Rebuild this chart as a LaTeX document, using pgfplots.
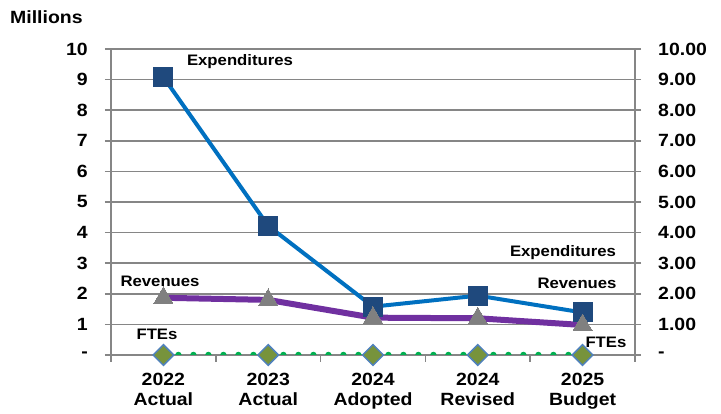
\documentclass[border=0pt]{standalone}
\usepackage{fontspec}
\setmainfont{Liberation Sans}[FakeStretch=1.1]
\usepackage{pgfplots}
\pgfplotsset{compat=1.18}
\definecolor{expline}{RGB}{0,112,192}
\definecolor{expmark}{RGB}{31,73,125}
\definecolor{revline}{RGB}{112,48,160}
\definecolor{revmark}{RGB}{128,128,128}
\definecolor{fteline}{RGB}{0,176,80}
\definecolor{ftefill}{RGB}{119,147,60}
\definecolor{ftedraw}{RGB}{79,129,189}
\definecolor{gridgray}{RGB}{134,134,134}
\pgfplotsset{
  common/.style={
    at={(0,0)}, anchor=south west, scale only axis,
    width=524pt, height=306pt,
    xmin=-0.5, xmax=4.5, ymin=0, ymax=10,
    ytick={0,1,...,10},
    tick align=outside, major tick length=6pt,
    tick style={draw=gridgray, line width=1.5pt},
    axis line style={draw=gridgray, line width=1.5pt, -},
    ticklabel style={font=\fontsize{17.7}{20}\selectfont\bfseries},
  }
}
\begin{document}
\begin{tikzpicture}
\path[use as bounding box] (-111pt,-59pt) rectangle (610pt,355pt);
\begin{axis}[common,
  axis x line*=bottom, axis y line*=left,
  ymajorgrids, grid style={draw=gridgray, line width=1.5pt},
  yticklabels={-,1,2,3,4,5,6,7,8,9,10},
  yticklabel style={anchor=east, inner sep=0pt, xshift=-17pt},
  xtick={0,1,2,3,4},
  xticklabels={{2022\\Actual},{2023\\Actual},{2024\\Adopted},{2024\\Revised},{2025\\Budget}},
  xticklabel style={align=center, anchor=north, inner sep=0pt, yshift=-12pt},
  xtick style={draw=none},
  extra x ticks={-0.5,0.5,1.5,2.5,3.5,4.5},
  extra x tick labels={},
  extra x tick style={grid=none, xtick style={draw=gridgray, line width=1.5pt}, major tick length=7pt},
]
\addplot[expline, line width=4pt, mark=square*, mark size=9.5pt,
  mark options={fill=expmark, draw=expmark, line width=0pt}]
  coordinates {(0,9.08) (1,4.22) (2,1.58) (3,1.94) (4,1.39)};
\addplot[revline, line width=6pt, mark=triangle*, mark size=11pt,
  mark options={fill=revmark, draw=revmark, line width=0pt}]
  coordinates {(0,1.87) (1,1.80) (2,1.22) (3,1.20) (4,0.98)};
\begin{scope}[font=\fontsize{15.2}{17}\selectfont\bfseries]
\node at (axis cs:0.731,9.575) {Expenditures};
\node at (axis cs:-0.032,2.418) {Revenues};
\node at (axis cs:-0.061,0.686) {FTEs};
\node at (axis cs:3.813,3.333) {Expenditures};
\node at (axis cs:3.947,2.353) {Revenues};
\end{scope}
\end{axis}
\begin{axis}[common,
  hide x axis, axis y line*=right,
  yticklabels={-,1.00,2.00,3.00,4.00,5.00,6.00,7.00,8.00,9.00,10.00},
  yticklabel style={anchor=west, inner sep=0pt, xshift=17pt},
]
\addplot[fteline, line width=6.5pt, dash pattern=on 0pt off 15pt, line cap=round,
  mark=square*, mark size=7.3pt,
  mark options={solid, rotate=45, fill=ftefill, draw=ftedraw, line width=1.5pt}]
  coordinates {(0,0) (1,0) (2,0) (3,0) (4,0)};
\node[font=\fontsize{15.2}{17}\selectfont\bfseries] at (axis cs:4.223,0.425) {FTEs};
\end{axis}
\node[anchor=west, inner sep=0pt, font=\fontsize{17.7}{20}\selectfont\bfseries] at (-101pt,338pt) {Millions};
\end{tikzpicture}
\end{document}
